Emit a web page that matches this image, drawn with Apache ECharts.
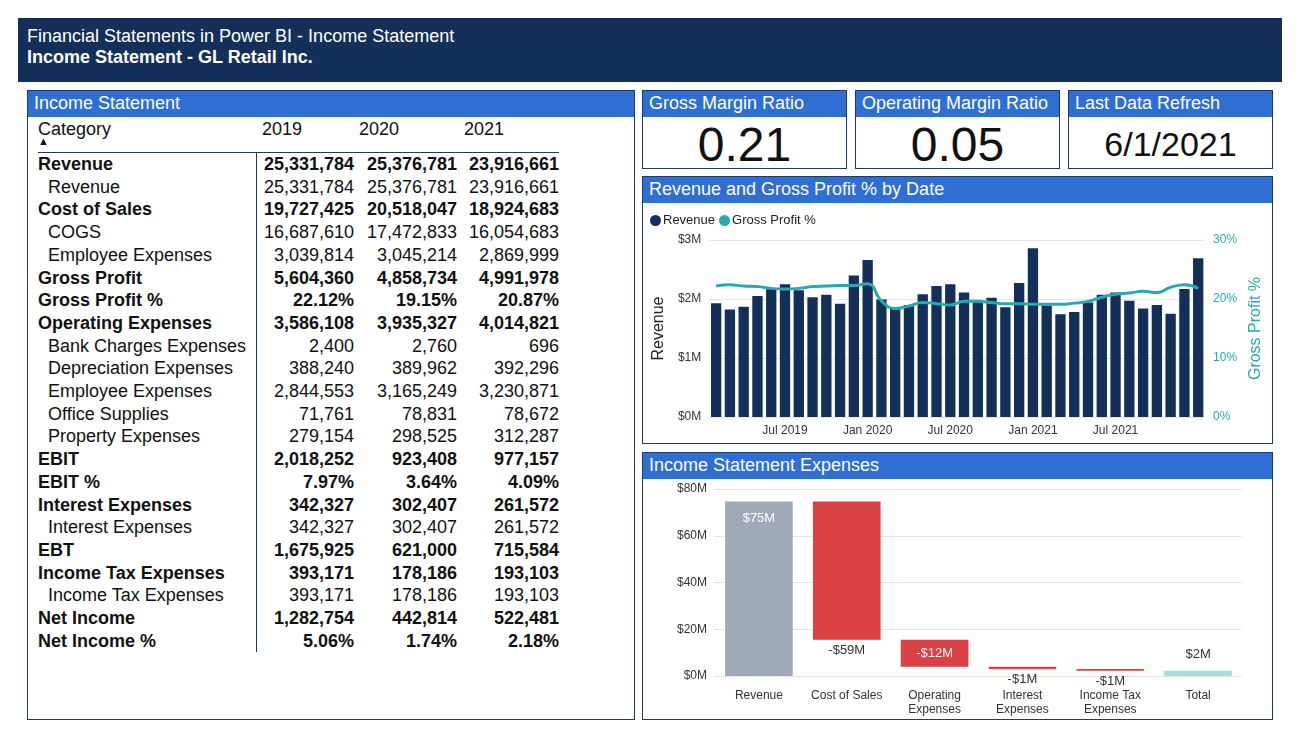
<!DOCTYPE html>
<html><head><meta charset="utf-8">
<script src="https://cdn.jsdelivr.net/npm/echarts@6/dist/echarts.min.js"></script>
<style>
body{margin:0;width:1300px;height:748px;background:#fff;font-family:"Liberation Sans",Arial,sans-serif;position:relative;overflow:hidden}
.box{position:absolute;border:1px solid #1e3a66;box-sizing:border-box}
.ttl{background:#2f6fd3;color:#fff;font-size:18px;height:26px;line-height:24px;padding-left:6px;margin:0}
#hdr{position:absolute;left:18px;top:18px;width:1264px;height:64px;background:#14305a;color:#fff;padding:8px 9px;box-sizing:border-box}
table{border-collapse:collapse;font-size:18px;color:#111;table-layout:fixed}
td{padding:0;height:22.7px;line-height:22.7px;white-space:nowrap;overflow:visible}
td.n{text-align:right}
.b td{font-weight:bold}
.kv{font-size:48px;text-align:center;color:#111;margin-top:0px}
</style></head><body>
<div id="hdr"><div style="font-size:18px">Financial Statements in Power BI - Income Statement</div><div style="font-size:18px;font-weight:bold">Income Statement - GL Retail Inc.</div></div>

<div class="box" style="left:27px;top:90px;width:608px;height:630px"><div class="ttl">Income Statement</div>
<div id="tbl" style="position:absolute;left:10px;top:27px"></div></div>

<div class="box" style="left:642px;top:90px;width:205px;height:79px"><div class="ttl">Gross Margin Ratio</div><div class="kv">0.21</div></div>
<div class="box" style="left:855px;top:90px;width:205px;height:79px"><div class="ttl">Operating Margin Ratio</div><div class="kv">0.05</div></div>
<div class="box" style="left:1068px;top:90px;width:205px;height:79px"><div class="ttl">Last Data Refresh</div><div class="kv" style="font-size:34px;margin-top:8px">6/1/2021</div></div>

<div class="box" style="left:642px;top:176px;width:631px;height:268px"><div class="ttl">Revenue and Gross Profit % by Date</div><div id="c1" style="width:629px;height:240px"></div></div>
<div class="box" style="left:642px;top:452px;width:631px;height:268px"><div class="ttl">Income Statement Expenses</div><div id="c2" style="width:629px;height:240px"></div></div>

<script>
// Tabela do demonstrativo
var linhas = ['Revenue','Revenue','Cost of Sales','COGS','Employee Expenses','Gross Profit','Gross Profit %','Operating Expenses','Bank Charges Expenses','Depreciation Expenses','Employee Expenses','Office Supplies','Property Expenses','EBIT','EBIT %','Interest Expenses','Interest Expenses','EBT','Income Tax Expenses','Income Tax Expenses','Net Income','Net Income %'];
var negrito = [1,0,1,0,0,1,1,1,0,0,0,0,0,1,1,1,0,1,1,0,1,1];
var v2019 = ['25,331,784','25,331,784','19,727,425','16,687,610','3,039,814','5,604,360','22.12%','3,586,108','2,400','388,240','2,844,553','71,761','279,154','2,018,252','7.97%','342,327','342,327','1,675,925','393,171','393,171','1,282,754','5.06%'];
var v2020 = ['25,376,781','25,376,781','20,518,047','17,472,833','3,045,214','4,858,734','19.15%','3,935,327','2,760','389,962','3,165,249','78,831','298,525','923,408','3.64%','302,407','302,407','621,000','178,186','178,186','442,814','1.74%'];
var v2021 = ['23,916,661','23,916,661','18,924,683','16,054,683','2,869,999','4,991,978','20.87%','4,014,821','696','392,296','3,230,871','78,672','312,287','977,157','4.09%','261,572','261,572','715,584','193,103','193,103','522,481','2.18%'];

// Grafico de receita (Feb 2019 .. Jan 2022)
var meses = [];
var nomesMes = ['Jan','Feb','Mar','Apr','May','Jun','Jul','Aug','Sep','Oct','Nov','Dec'];
for (var a = 2019; a <= 2022; a++) nomesMes.forEach(function(m){ meses.push(m + ' ' + a); });
meses = meses.slice(1, 37);
var receita = [1.93,1.82,1.87,2.05,2.17,2.25,2.15,2.03,2.07,1.92,2.40,2.66,1.99,1.83,1.90,2.08,2.22,2.25,2.11,1.97,2.02,1.86,2.27,2.86,1.89,1.74,1.78,1.94,2.07,2.11,1.97,1.84,1.90,1.75,2.17,2.69];
var margem = [22.2,22.4,22.2,22.1,21.8,21.7,21.8,22.1,22.2,22.3,22.3,22.6,19.7,18.4,18.8,19.4,19.2,19.0,19.6,19.6,19.4,19.2,19.2,19.1,19.1,19.1,19.3,19.6,20.3,20.8,21.0,21.3,21.1,22.0,22.4,21.8];

// Grafico cascata
var etapas = ['Revenue','Cost of Sales','Operating\nExpenses','Interest\nExpenses','Income Tax\nExpenses','Total'];
var variacao = [74.63,-59.17,-11.54,-0.91,-0.76];

var hs = 'vertical-align:top;line-height:22px;height:34px;position:relative;';
var html = '<table><colgroup><col style="width:218px"><col style="width:98px"><col style="width:103px"><col style="width:102px"></colgroup>'+
	'<tr><td style="'+hs+'">Category<span style="font-size:11px;position:absolute;left:0;top:17px;line-height:12px">&#9650;</span></td><td style="'+hs+'padding-left:6px">2019</td><td style="'+hs+'padding-left:5px">2020</td><td style="'+hs+'padding-left:7px">2021</td></tr>';
for (var i = 0; i < linhas.length; i++) {
	var bl = i==0 ? 'border-top:1px solid #1e3a66;' : '';
	html += '<tr class="'+(negrito[i]?'b':'')+'"><td style="'+bl+'padding-left:'+(negrito[i]?0:10)+'px">'+linhas[i]+'</td>'+
		'<td class="n" style="'+bl+'border-left:1px solid #1e3a66">'+v2019[i]+'</td><td class="n" style="'+bl+'">'+v2020[i]+'</td><td class="n" style="'+bl+'">'+v2021[i]+'</td></tr>';
}
html += '</table>';
document.getElementById('tbl').innerHTML = html;

var grafico1 = echarts.init(document.getElementById('c1'));
grafico1.setOption({
	textStyle:{fontFamily:'Liberation Sans'},
	legend:{left:2,top:6,itemWidth:11,itemHeight:11,itemGap:4,icon:'circle',textStyle:{fontSize:13,color:'#222',padding:[0,0,0,-3]},
		data:['Revenue','Gross Profit %']},
	grid:{left:60,right:59,top:37,bottom:26},
	xAxis:{type:'category',data:meses,axisLine:{show:false},axisTick:{show:false},
		axisLabel:{fontSize:12,color:'#333',interval:0,formatter:function(v){return (v.indexOf('Jul')==0||v.indexOf('Jan 2020')==0||v.indexOf('Jan 2021')==0)?v:'';}}},
	yAxis:[{type:'value',min:0,max:3,interval:1,name:'Revenue',nameLocation:'middle',nameGap:37,nameTextStyle:{fontSize:16,color:'#222'},
		axisLabel:{fontSize:12,color:'#333',formatter:'${value}M'},splitLine:{lineStyle:{type:'dotted',color:'#ccc'}}},
		{type:'value',min:0,max:30,interval:10,name:'Gross Profit %',nameLocation:'middle',nameGap:38,nameTextStyle:{fontSize:16,color:'#2aa8b0'},
		axisLabel:{fontSize:12,color:'#2aa8b0',formatter:'{value}%'},splitLine:{show:false}}],
	series:[{name:'Revenue',type:'bar',data:receita,barCategoryGap:'25%',itemStyle:{color:'#14305a'}},
		{name:'Gross Profit %',type:'line',yAxisIndex:1,data:margem,smooth:true,showSymbol:false,lineStyle:{width:3,color:'#2aa8b0'},itemStyle:{color:'#2aa8b0'}}]
});

var base = [], valor = [], rotulos = [], cores = [], acum = 0;
for (var k = 0; k < variacao.length; k++) {
	var d = variacao[k];
	if (k == 0) { base.push(0); valor.push(d); acum = d; }
	else { acum += d; base.push(acum); valor.push(-d); }
	rotulos.push((d<0?'-$':'$') + Math.round(Math.abs(d)) + 'M');
	cores.push(k==0 ? '#a0a9b8' : '#d94145');
}
base.push(0); valor.push(acum); rotulos.push('$' + Math.round(acum) + 'M'); cores.push('#a6ddda');
var dentro = [true,false,true,false,false,false];
var grafico2 = echarts.init(document.getElementById('c2'));
grafico2.setOption({
	textStyle:{fontFamily:'Liberation Sans'},
	grid:{left:72,right:30,top:10,bottom:43},
	xAxis:{type:'category',data:etapas,axisLine:{show:false},axisTick:{show:false},axisLabel:{fontSize:12,color:'#333',interval:0,lineHeight:14,margin:13}},
	yAxis:{type:'value',min:0,max:80,interval:20,axisLabel:{fontSize:12,color:'#333',formatter:'${value}M'},splitLine:{lineStyle:{type:'dotted',color:'#ccc'}}},
	series:[{type:'bar',stack:'w',data:base,itemStyle:{color:'transparent'},barCategoryGap:'23%'},
		{type:'bar',stack:'w',data:valor.map(function(v,i){
			var inn = dentro[i];
			return {value:v,itemStyle:{color:cores[i]},label:{show:true,position:inn?(i==0?'insideTop':'inside'):(i==valor.length-1?'top':'bottom'),
				distance:i==0?10:(i==valor.length-1?10:4),color:inn?'#fff':'#333',fontSize:13,formatter:rotulos[i]}};
		})}]
});
</script>
</body></html>
